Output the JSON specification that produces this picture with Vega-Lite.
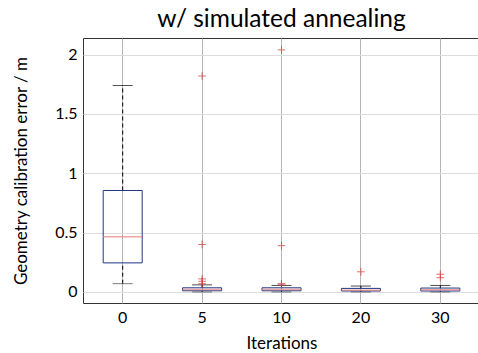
{
  "$schema": "https://vega.github.io/schema/vega-lite/v6.json",
  "autosize": {"type": "none"},
  "padding": {"left": 83, "top": 38, "right": 0, "bottom": 50},
  "width": 397,
  "height": 265,
  "background": "white",
  "title": {"text": "w/ simulated annealing", "font": "Lato", "fontSize": 24.5, "fontWeight": "normal", "color": "black", "offset": 6, "anchor": "middle"},
  "config": {
    "view": {"stroke": "#333333", "strokeWidth": 1},
    "axis": {"labelFont": "Lato", "titleFont": "Lato", "labelFontSize": 16, "titleFontSize": 17, "titleFontWeight": "normal", "labelColor": "black", "titleColor": "black", "domain": false}
  },
  "datasets": {
    "boxes": [
      {"it": "0", "lower": 0.07, "q1": 0.245, "median": 0.465, "q3": 0.855, "upper": 1.74},
      {"it": "5", "lower": 0.0, "q1": 0.01, "median": 0.02, "q3": 0.035, "upper": 0.06},
      {"it": "10", "lower": 0.0, "q1": 0.01, "median": 0.02, "q3": 0.035, "upper": 0.055},
      {"it": "20", "lower": 0.0, "q1": 0.008, "median": 0.015, "q3": 0.03, "upper": 0.05},
      {"it": "30", "lower": 0.0, "q1": 0.008, "median": 0.018, "q3": 0.033, "upper": 0.055}
    ],
    "outliers": [
      {"it": "5", "v": 1.82}, {"it": "5", "v": 0.4}, {"it": "5", "v": 0.11}, {"it": "5", "v": 0.09}, {"it": "5", "v": 0.07},
      {"it": "10", "v": 2.04}, {"it": "10", "v": 0.39}, {"it": "10", "v": 0.07}, {"it": "10", "v": 0.06},
      {"it": "20", "v": 0.17},
      {"it": "30", "v": 0.15}, {"it": "30", "v": 0.12}
    ]
  },
  "encoding": {
    "x": {"field": "it", "type": "ordinal", "sort": ["0", "5", "10", "20", "30"],
      "scale": {"type": "band", "paddingInner": 0, "paddingOuter": 0},
      "axis": {"title": "Iterations", "labelAngle": 0, "bandPosition": 0.5, "grid": true, "gridColor": "#b5b5b5", "gridWidth": 1, "ticks": false, "labelPadding": 6, "titlePadding": 10}}
  },
  "layer": [
    {
      "data": {"name": "boxes"},
      "mark": {"type": "rule", "strokeDash": [4, 3], "color": "black", "strokeWidth": 1},
      "encoding": {
        "y": {"field": "q3", "type": "quantitative", "scale": {"domain": [-0.093, 2.14], "nice": false, "zero": false},
          "axis": {"title": "Geometry calibration error / m", "values": [0, 0.5, 1, 1.5, 2], "format": ".1~f", "grid": true, "gridColor": "#dcdcdc", "ticks": false, "labelPadding": 6, "titlePadding": 24}},
        "y2": {"field": "upper"}
      }
    },
    {
      "data": {"name": "boxes"},
      "mark": {"type": "rule", "strokeDash": [4, 3], "color": "black", "strokeWidth": 1},
      "encoding": {"y": {"field": "lower", "type": "quantitative"}, "y2": {"field": "q1"}}
    },
    {
      "data": {"name": "boxes"},
      "mark": {"type": "tick", "color": "black", "size": 20, "thickness": 1},
      "encoding": {"y": {"field": "upper", "type": "quantitative"}}
    },
    {
      "data": {"name": "boxes"},
      "mark": {"type": "tick", "color": "#444", "size": 20, "thickness": 1},
      "encoding": {"y": {"field": "lower", "type": "quantitative"}}
    },
    {
      "data": {"name": "boxes"},
      "mark": {"type": "bar", "width": 39, "fill": "white", "fillOpacity": 0, "stroke": "#1f3680", "strokeWidth": 1},
      "encoding": {"y": {"field": "q1", "type": "quantitative"}, "y2": {"field": "q3"}}
    },
    {
      "data": {"name": "boxes"},
      "mark": {"type": "tick", "color": "#e88080", "size": 39, "thickness": 1.5},
      "encoding": {"y": {"field": "median", "type": "quantitative"}}
    },
    {
      "data": {"name": "outliers"},
      "mark": {"type": "point", "shape": "M -1 0 L 1 0 M 0 -1 L 0 1", "filled": false, "color": "#e03030", "size": 60, "strokeWidth": 1},
      "encoding": {"y": {"field": "v", "type": "quantitative"}}
    }
  ]
}
